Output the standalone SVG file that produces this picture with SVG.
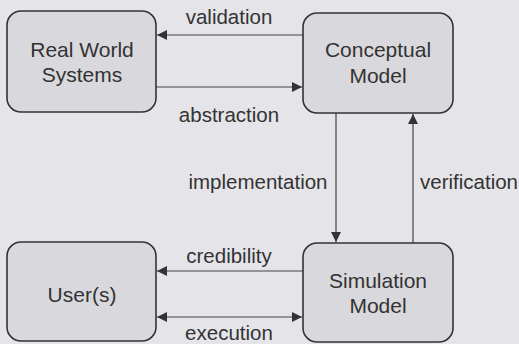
<svg xmlns="http://www.w3.org/2000/svg" width="519" height="344" viewBox="0 0 519 344">
<style>
.box{fill:#d9d8dd;stroke:#333;stroke-width:1.6}
.t{font-family:"Liberation Sans",Arial,sans-serif;font-size:21px;fill:#333;text-anchor:middle}
.l{font-family:"Liberation Sans",Arial,sans-serif;font-size:20.5px;fill:#333;text-anchor:middle}
.c{stroke:#444;stroke-width:1.2;fill:none}
</style>
<defs>
<marker id="ah" viewBox="0 0 10 10" refX="10" refY="5" markerWidth="10" markerHeight="10" markerUnits="userSpaceOnUse" orient="auto-start-reverse">
<path d="M0,0 L10,5 L0,10 z" fill="#333"/>
</marker>
</defs>
<rect width="519" height="344" fill="#e5e4e9"/>
<g id="connectors">
<line class="c" x1="303" y1="35" x2="157" y2="35" marker-end="url(#ah)"/>
<line class="c" x1="156" y1="87" x2="302" y2="87" marker-end="url(#ah)"/>
<line class="c" x1="336" y1="113" x2="336" y2="242" marker-end="url(#ah)"/>
<line class="c" x1="413" y1="243" x2="413" y2="114" marker-end="url(#ah)"/>
<line class="c" x1="303" y1="271" x2="157" y2="271" marker-end="url(#ah)"/>
<line class="c" x1="157" y1="317" x2="302" y2="317" marker-start="url(#ah)" marker-end="url(#ah)"/>
<text class="l" x="229" y="24">validation</text>
<text class="l" x="229" y="122">abstraction</text>
<text class="l" x="258" y="189">implementation</text>
<text class="l" x="469" y="189">verification</text>
<text class="l" x="229" y="263">credibility</text>
<text class="l" x="229" y="340">execution</text>
</g>
<g id="real-world">
<rect class="box" x="7" y="11" width="149" height="101" rx="14"/>
<text class="t" x="82" y="57">Real World</text>
<text class="t" x="82" y="82">Systems</text>
</g>
<g id="conceptual">
<rect class="box" x="303" y="13" width="150" height="100" rx="14"/>
<text class="t" x="378" y="57">Conceptual</text>
<text class="t" x="378" y="83">Model</text>
</g>
<g id="users">
<rect class="box" x="7" y="242" width="149" height="99" rx="14"/>
<text class="t" x="82" y="302">User(s)</text>
</g>
<g id="simulation">
<rect class="box" x="303" y="243" width="150" height="99" rx="14"/>
<text class="t" x="378" y="288">Simulation</text>
<text class="t" x="378" y="313">Model</text>
</g>
</svg>
